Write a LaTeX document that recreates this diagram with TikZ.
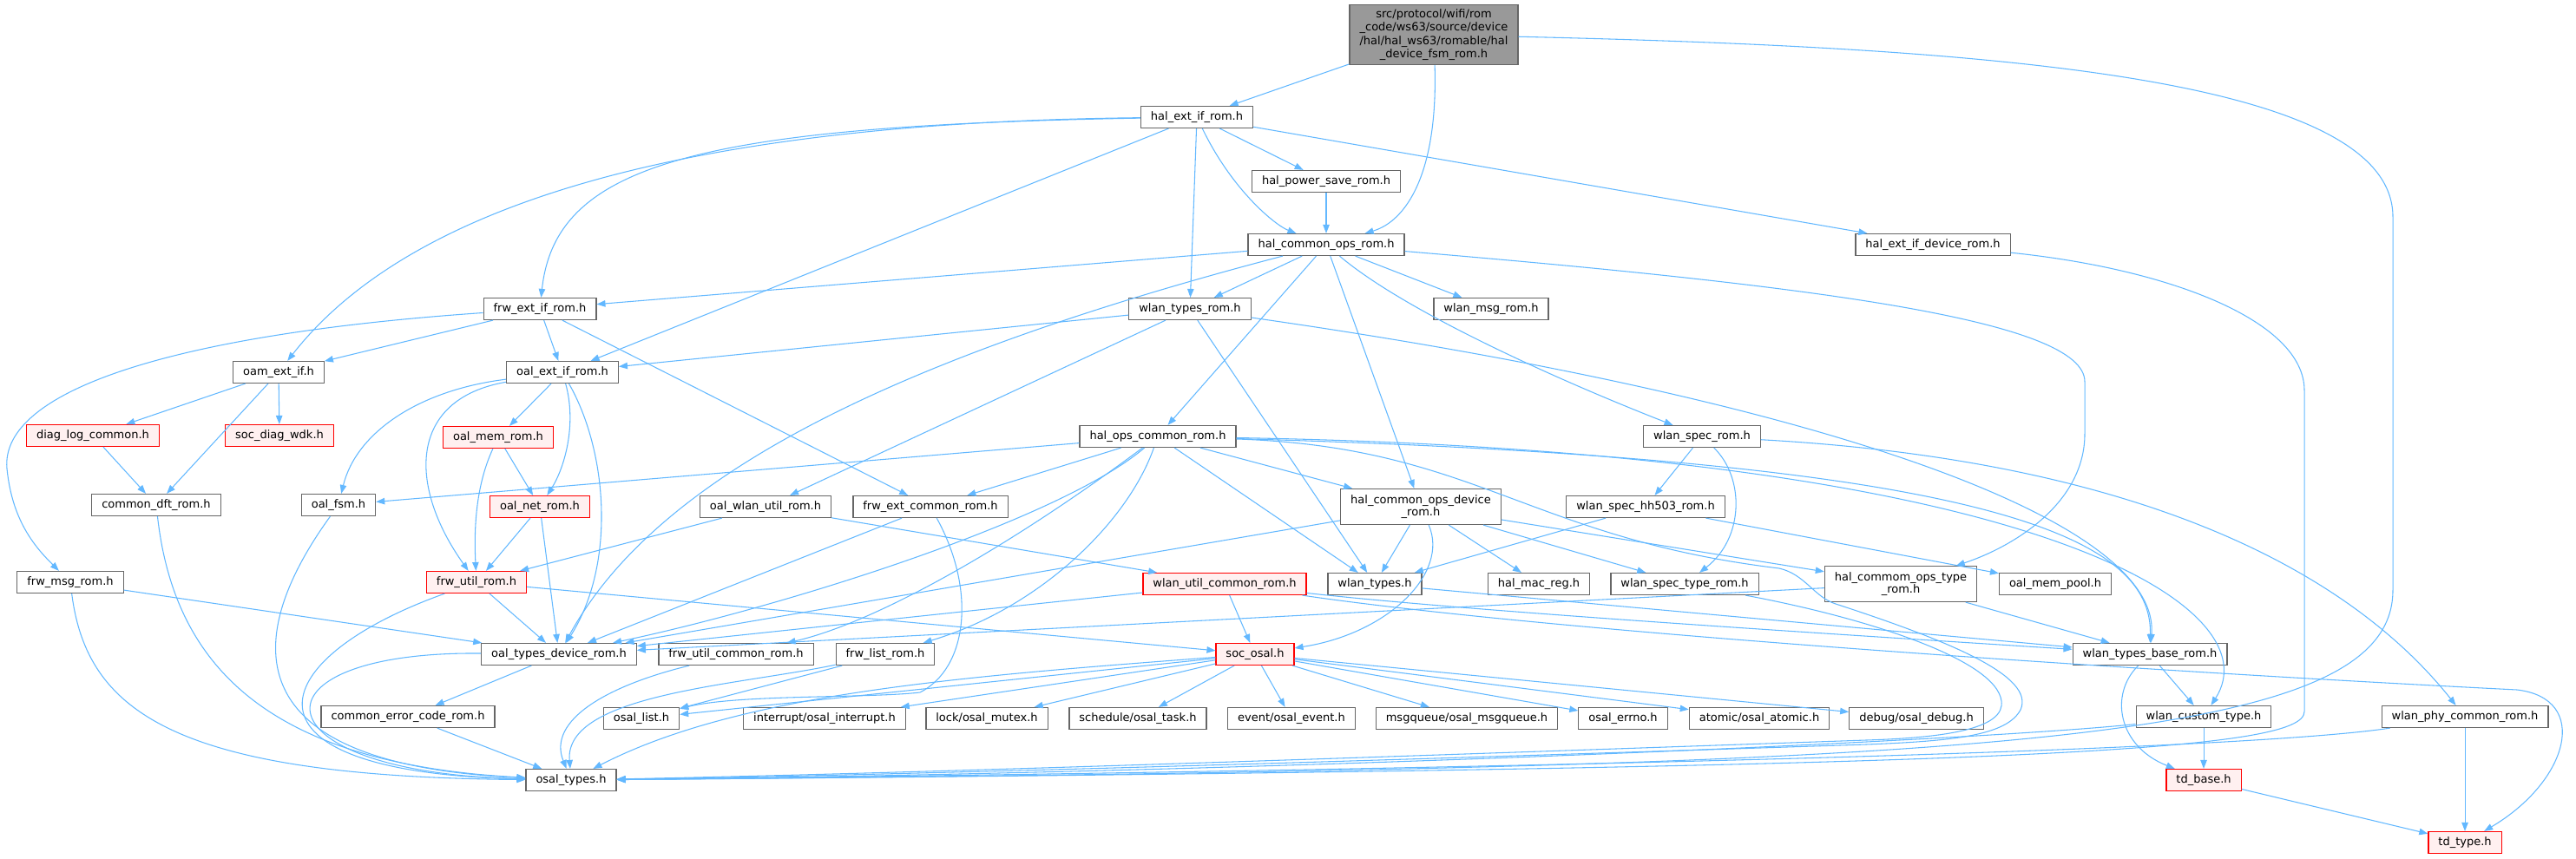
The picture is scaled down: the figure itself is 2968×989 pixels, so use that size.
\documentclass[tikz,border=0pt]{standalone}
\usepackage{fontspec}
\setmainfont{DejaVu Sans}
\usetikzlibrary{%
  arrows.meta% Triangle tips
}
\definecolor{edgeblue}{HTML}{63B8FF}
\definecolor{boxgrey}{HTML}{666666}
\definecolor{topgrey}{HTML}{999999}
\definecolor{cutfill}{HTML}{FFF0F0}
\tikzset{
  hfile/.style={draw=boxgrey, fill=white, line width=0.9pt, inner xsep=8.6pt, inner ysep=0pt,
    minimum height=18.75pt, align=center, font=\fontsize{9.75}{10.5}\selectfont},
  hcut/.style={hfile, draw=red, fill=cutfill},
  twoline/.style={minimum height=30.75pt},
  hmain/.style={hfile, fill=topgrey, minimum height=51.75pt, font=\fontsize{9.75}{11.5}\selectfont},
  hdep/.style={draw=edgeblue, line width=0.8pt, -{Triangle[length=7.5pt,width=5.6pt]}}
}

\begin{document}
\begin{tikzpicture}[x=0.75pt,y=-0.75pt]
\useasboundingbox (0,0) rectangle (2968,989);
\node[hmain] (T) at (1652,40) {src/protocol/wifi/rom\\\_code/ws63/source/device\\/hal/hal\_ws63/romable/hal\\\_device\_fsm\_rom.h};
\node[hfile] (halextif) at (1379,135) {hal\_ext\_if\_rom.h};
\node[hfile] (halps) at (1528,209) {hal\_power\_save\_rom.h};
\node[hfile] (halcops) at (1528,282) {hal\_common\_ops\_rom.h};
\node[hfile] (halextdev) at (2227,282) {hal\_ext\_if\_device\_rom.h};
\node[hfile] (frwextif) at (622,356) {frw\_ext\_if\_rom.h};
\node[hfile] (wlantypesrom) at (1371,356) {wlan\_types\_rom.h};
\node[hfile] (wlanmsg) at (1718,356) {wlan\_msg\_rom.h};
\node[hfile] (oamextif) at (321,429) {oam\_ext\_if.h};
\node[hfile] (oalextif) at (648,429) {oal\_ext\_if\_rom.h};
\node[hcut] (diaglog) at (107,502) {diag\_log\_common.h};
\node[hcut] (socdiag) at (322,502) {soc\_diag\_wdk.h};
\node[hcut] (oalmem) at (574,504) {oal\_mem\_rom.h};
\node[hfile] (halopscom) at (1334,503) {hal\_ops\_common\_rom.h};
\node[hfile] (wlanspec) at (1961,503) {wlan\_spec\_rom.h};
\node[hfile] (comdft) at (180,582) {common\_dft\_rom.h};
\node[hfile] (oalfsm) at (390,582) {oal\_fsm.h};
\node[hcut] (oalnet) at (622,584) {oal\_net\_rom.h};
\node[hfile] (oalwlanutil) at (882,584) {oal\_wlan\_util\_rom.h};
\node[hfile] (frwextcom) at (1072,584) {frw\_ext\_common\_rom.h};
\node[hfile, twoline] (halcopsdev) at (1637,584) {hal\_common\_ops\_device\\\_rom.h};
\node[hfile] (wlanspechh) at (1896,584) {wlan\_spec\_hh503\_rom.h};
\node[hfile] (frwmsg) at (81,671) {frw\_msg\_rom.h};
\node[hcut] (frwutil) at (549,671) {frw\_util\_rom.h};
\node[hcut] (wlanutilcom) at (1411,673) {wlan\_util\_common\_rom.h};
\node[hfile] (wlantypes) at (1584,673) {wlan\_types.h};
\node[hfile] (halmac) at (1773,673) {hal\_mac\_reg.h};
\node[hfile] (wlanspectype) at (1941,673) {wlan\_spec\_type\_rom.h};
\node[hfile, twoline] (halcopstype) at (2190,673) {hal\_commom\_ops\_type\\\_rom.h};
\node[hfile] (oalmempool) at (2368,673) {oal\_mem\_pool.h};
\node[hfile] (oaltypesdev) at (644,754) {oal\_types\_device\_rom.h};
\node[hfile] (frwutilcom) at (848,754) {frw\_util\_common\_rom.h};
\node[hfile] (frwlist) at (1020,754) {frw\_list\_rom.h};
\node[hcut] (socosal) at (1446,754) {soc\_osal.h};
\node[hfile] (wlantypesbase) at (2477,754) {wlan\_types\_base\_rom.h};
\node[hfile] (comerr) at (470,826) {common\_error\_code\_rom.h};
\node[hfile] (osallist) at (739,828) {osal\_list.h};
\node[hfile] (osalint) at (950,828) {interrupt/osal\_interrupt.h};
\node[hfile] (osalmutex) at (1137,828) {lock/osal\_mutex.h};
\node[hfile] (osaltask) at (1311,828) {schedule/osal\_task.h};
\node[hfile] (osalevent) at (1488,828) {event/osal\_event.h};
\node[hfile] (osalmsgq) at (1690,828) {msgqueue/osal\_msgqueue.h};
\node[hfile] (osalerrno) at (1870,828) {osal\_errno.h};
\node[hfile] (osalatomic) at (2027,828) {atomic/osal\_atomic.h};
\node[hfile] (osaldebug) at (2208,828) {debug/osal\_debug.h};
\node[hfile] (wlancustom) at (2539,826) {wlan\_custom\_type.h};
\node[hfile] (wlanphy) at (2840,826) {wlan\_phy\_common\_rom.h};
\node[hfile] (osaltypes) at (658,899) {osal\_types.h};
\node[hcut] (tdbase) at (2539,899) {td\_base.h};
\node[hcut] (tdtype) at (2840,971) {td\_type.h};

\foreach \a/\b in {T/halextif, halextif/oalextif, halextif/wlantypesrom, halextif/halps,
    halextif/halextdev, halps/halcops, halcops/frwextif, halcops/wlantypesrom, halcops/wlanmsg,
    halcops/halopscom, halcops/halcopsdev, frwextif/oamextif, frwextif/oalextif, frwextif/frwextcom,
    wlantypesrom/oalextif, wlantypesrom/oalwlanutil, wlantypesrom/wlantypes,
    oamextif/diaglog, oamextif/socdiag, oamextif/comdft, diaglog/comdft, oalextif/oalmem,
    oalmem/oalnet, oalnet/frwutil, oalnet/oaltypesdev, halopscom/oalfsm, halopscom/frwextcom,
    halopscom/wlantypes, halopscom/halcopsdev, wlanspec/wlanspechh, oalwlanutil/frwutil,
    oalwlanutil/wlanutilcom, frwextcom/oaltypesdev, halcopsdev/wlantypes, halcopsdev/halmac,
    halcopsdev/wlanspectype, halcopsdev/oaltypesdev, halcopsdev/halcopstype,
    wlanspechh/wlantypes, wlanspechh/oalmempool, frwmsg/oaltypesdev, frwutil/oaltypesdev,
    frwutil/socosal, wlanutilcom/socosal, wlanutilcom/oaltypesdev, wlantypes/wlantypesbase,
    halcopstype/wlantypesbase, halcopstype/oaltypesdev, socosal/osallist, socosal/osalint,
    socosal/osalmutex, socosal/osaltask, socosal/osalevent, socosal/osalmsgq, socosal/osalerrno,
    socosal/osalatomic, socosal/osaldebug, frwlist/osallist, oaltypesdev/comerr, comerr/osaltypes,
    wlantypesbase/wlancustom, wlancustom/tdbase, wlanphy/tdtype, tdbase/tdtype}
  \draw[hdep] (\a) -- (\b);

\draw[hdep] (T) .. controls (1657,200) and (1620,255) .. (halcops);
\draw[hdep] (T) .. controls (2300,55) and (2757,90) .. (2757,250) -- (2757,680) .. controls (2757,860) and (2300,885) .. (osaltypes);
\draw[hdep] (halextif) .. controls (900,140) and (500,200) .. (oamextif);
\draw[hdep] (halextif) .. controls (800,145) and (640,190) .. (frwextif);
\draw[hdep] (halextif) .. controls (1420,220) and (1470,260) .. (halcops);
\draw[hdep] (halcops) .. controls (1000,420) and (750,560) .. (oaltypesdev);
\draw[hdep] (halcops) .. controls (1620,360) and (1800,440) .. (wlanspec);
\draw[hdep] (halcops) .. controls (2100,330) and (2402,370) .. (2402,440) -- (2402,500) .. controls (2402,580) and (2320,630) .. (halcopstype);
\draw[hdep] (halextdev) .. controls (2500,310) and (2655,370) .. (2655,450) -- (2655,820) .. controls (2655,865) and (2350,885) .. (osaltypes);
\draw[hdep] (frwextif) .. controls (200,385) and (0,450) .. (8,540) .. controls (14,600) and (40,630) .. (frwmsg);
\draw[hdep] (wlantypesrom) .. controls (2100,460) and (2490,600) .. (wlantypesbase);
\draw[hdep] (oalextif) .. controls (480,450) and (410,500) .. (oalfsm);
\draw[hdep] (oalextif) .. controls (470,460) and (470,560) .. (frwutil);
\draw[hdep] (oalextif) .. controls (700,520) and (710,650) .. (oaltypesdev);
\draw[hdep] (oalextif) .. controls (665,490) and (650,540) .. (oalnet);
\draw[hdep] (oalmem) .. controls (548,560) and (546,610) .. (frwutil);
\draw[hdep] (halopscom) .. controls (1220,600) and (900,700) .. (oaltypesdev);
\draw[hdep] (halopscom) .. controls (1150,640) and (1000,720) .. (frwutilcom);
\draw[hdep] (halopscom) .. controls (1300,600) and (1200,700) .. (frwlist);
\draw[hdep] (halopscom) .. controls (1700,515) and (1760,620) .. (2050,655) .. controls (2080,662) and (2090,688) .. (2115,696) .. controls (2250,740) and (2345,780) .. (2328,818) .. controls (2312,848) and (2250,854) .. (2150,858) .. controls (1600,876) and (1100,892) .. (osaltypes);
\draw[hdep] (halopscom) .. controls (2300,530) and (2480,620) .. (wlantypesbase);
\draw[hdep] (halopscom) .. controls (2350,520) and (2620,700) .. (wlancustom);
\draw[hdep] (wlanspec) .. controls (2010,550) and (2010,620) .. (wlanspectype);
\draw[hdep] (wlanspec) .. controls (2450,530) and (2700,650) .. (wlanphy);
\draw[hdep] (halcopsdev) .. controls (1670,660) and (1600,730) .. (socosal);
\draw[hdep] (frwextcom) .. controls (1125,680) and (1115,770) .. (1060,798) .. controls (1000,805) and (850,800) .. (osallist);
\draw[hdep] (wlanutilcom) .. controls (1700,705) and (2100,730) .. (wlantypesbase);
\draw[hdep] (wlanutilcom) .. controls (1800,730) and (2500,775) .. (2900,795) .. controls (2985,805) and (2960,900) .. (tdtype);
\draw[hdep] (wlanspectype) .. controls (2150,712) and (2300,760) .. (2306,808) .. controls (2310,838) and (2250,850) .. (2150,853) .. controls (1600,872) and (1100,890) .. (osaltypes);
\draw[hdep] (socosal) .. controls (1100,780) and (850,800) .. (osaltypes);
\draw[hdep] (frwlist) .. controls (850,790) and (650,800) .. (osaltypes);
\draw[hdep] (frwutilcom) .. controls (700,790) and (630,830) .. (osaltypes);
\draw[hdep] (frwmsg) .. controls (100,820) and (200,895) .. (osaltypes);
\draw[hdep] (comdft) .. controls (200,760) and (300,880) .. (osaltypes);
\draw[hdep] (oalfsm) .. controls (290,720) and (250,880) .. (osaltypes);
\draw[hdep] (frwutil) .. controls (300,760) and (260,890) .. (osaltypes);
\draw[hdep] (oaltypesdev) .. controls (280,750) and (290,890) .. (osaltypes);
\draw[hdep] (wlantypesbase) .. controls (2430,800) and (2440,860) .. (tdbase);
\draw[hdep] (wlancustom) .. controls (2300,852) and (1500,890) .. (osaltypes);
\draw[hdep] (wlanphy) .. controls (2550,870) and (1500,890) .. (osaltypes);
\end{tikzpicture}
\end{document}
